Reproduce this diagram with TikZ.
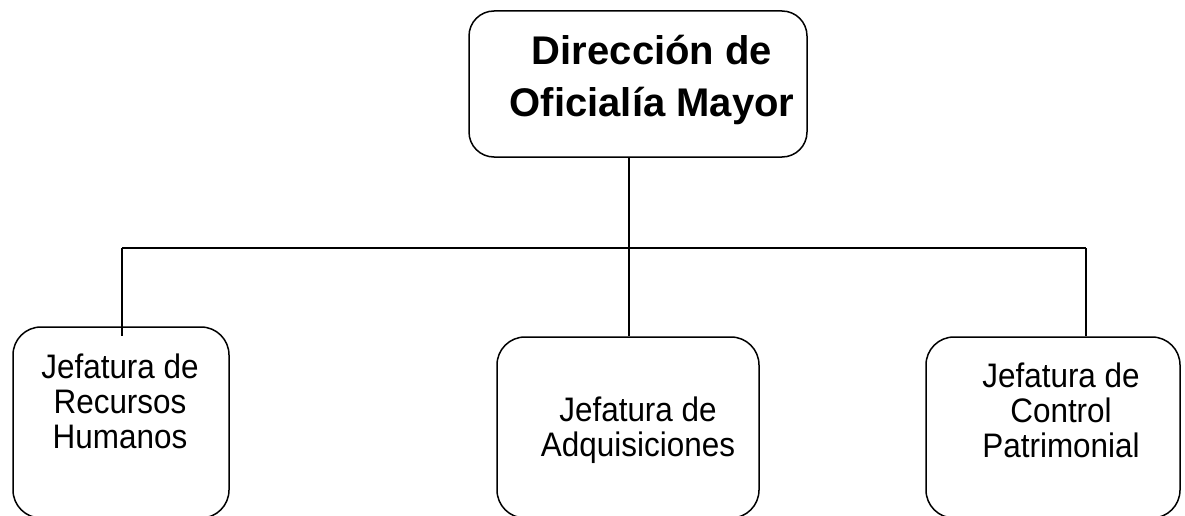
\documentclass[tikz,border=0pt]{standalone}
\usepackage{fontspec}
\setmainfont{Liberation Sans}
\newfontfamily\jefefont[FakeStretch=0.925]{Liberation Sans}
\usepackage{tikz}

\tikzset{
    dirbox/.style={draw, line width=1.5pt, rounded corners=25pt, minimum width=338pt, minimum height=146pt, inner sep=0pt},
    jefebox/.style={draw, line width=1.5pt, rounded corners=28pt, inner sep=0pt},
    dirtext/.style={align=center, font=\fontsize{40pt}{52pt}\selectfont\bfseries, inner sep=0pt},
    jefetext/.style={align=center, font=\jefefont\fontsize{34pt}{35pt}\selectfont, inner sep=0pt},
    link/.style={line width=1.5pt}
}

\begin{document}
\begin{tikzpicture}[x=1pt, y=-1pt]
    \clip (0,0) rectangle (1185,516);
    \fill[white] (0,0) rectangle (1185,516);

    % Top office
    \node[dirbox] (dir) at (638,84) {};
    \node[dirtext] (dirlbl) at (652,79.5) {Dirección de\\Oficialía Mayor};

    % Departments
    \node[jefebox, minimum width=216pt, minimum height=191pt] (rh) at (121,422.5) {};
    \node[jefebox, minimum width=262pt, minimum height=181pt] (adq) at (628,427.5) {};
    \node[jefebox, minimum width=254pt, minimum height=181pt] (cp) at (1053,427.5) {};
    \node[jefetext] (rhlbl) at (120,401) {Jefatura de\\Recursos\\Humanos};
    \node[jefetext] (adqlbl) at (638,430) {Jefatura de\\Adquisiciones};
    \node[jefetext] (cplbl) at (1061,410) {Jefatura de\\Control\\Patrimonial};

    % Connectors
    \coordinate (hub) at (629,248);
    \coordinate (lft) at (122,248);
    \coordinate (rgt) at (1086,248);
    \draw[link] (dir.south -| hub) -- (hub);
    \draw[link] (lft) -- (rgt);
    \draw[link] (lft) -- ([yshift=-10pt]lft |- rh.north);
    \draw[link] (hub) -- (hub |- adq.north);
    \draw[link] (rgt) -- (rgt |- cp.north);
\end{tikzpicture}
\end{document}
